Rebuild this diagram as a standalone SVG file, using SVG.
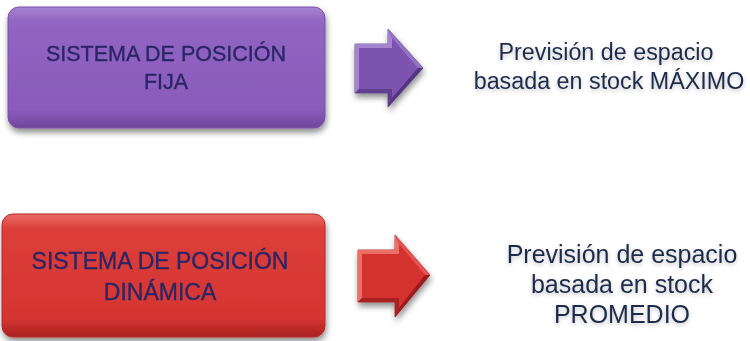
<svg xmlns="http://www.w3.org/2000/svg" width="750" height="341" viewBox="0 0 750 341">
<defs>
<linearGradient id="gPurple" x1="0" y1="0" x2="0" y2="1">
<stop offset="0" stop-color="#a684d2"/>
<stop offset="0.12" stop-color="#9165c2"/>
<stop offset="0.85" stop-color="#895bbb"/>
<stop offset="1" stop-color="#6f469c"/>
</linearGradient>
<linearGradient id="gRed" x1="0" y1="0" x2="0" y2="1">
<stop offset="0" stop-color="#ea6c66"/>
<stop offset="0.12" stop-color="#dc3e3a"/>
<stop offset="0.85" stop-color="#d53532"/>
<stop offset="1" stop-color="#a92220"/>
</linearGradient>
<filter id="shadow" x="-10%" y="-10%" width="120%" height="130%">
<feGaussianBlur in="SourceAlpha" stdDeviation="3"/>
<feOffset dx="1" dy="4" result="b"/>
<feComponentTransfer><feFuncA type="linear" slope="0.45"/></feComponentTransfer>
<feMerge><feMergeNode/><feMergeNode in="SourceGraphic"/></feMerge>
</filter>
<filter id="glow" x="-5%" y="-20%" width="110%" height="150%">
<feGaussianBlur in="SourceAlpha" stdDeviation="2"/>
<feOffset dx="0" dy="2"/>
<feComponentTransfer><feFuncA type="linear" slope="0.25"/></feComponentTransfer>
<feMerge><feMergeNode/><feMergeNode in="SourceGraphic"/></feMerge>
</filter>
</defs>
<style>
.box-text { font-family: "Liberation Sans", Arial, sans-serif; fill: #2a2666; stroke: #2a2666; stroke-width: 0.35; text-anchor: middle; }
.desc { font-family: "Liberation Sans", Arial, sans-serif; fill: #1d2c4b; text-anchor: middle; }
</style>

<g id="node-fija" filter="url(#shadow)">
<rect x="8" y="7" width="317" height="121" rx="11" fill="url(#gPurple)" stroke="#7a50a8" stroke-width="1"/>
<text class="box-text" x="166" y="61" font-size="21.5">SISTEMA DE POSICIÓN</text>
<text class="box-text" x="166" y="89" font-size="21.5">FIJA</text>
</g>

<g id="node-dinamica" filter="url(#shadow)">
<rect x="2" y="214" width="323" height="123" rx="11" fill="url(#gRed)" stroke="#b82a28" stroke-width="1"/>
<text class="box-text" x="160" y="269" font-size="23">SISTEMA DE POSICIÓN</text>
<text class="box-text" x="160" y="300" font-size="23">DINÁMICA</text>
</g>

<g id="connectors">
<g id="arrow-1" filter="url(#shadow)">
<polygon points="355,44 388,44 388,29 423,68 388,107 388,93 355,93" fill="#7b52ae" stroke="#5e3d8c" stroke-width="0.8"/>
<polygon points="355,44 388,44 388,29 392,38 392,48 359,48 359,89 355,93" fill="#a385cf"/>
<polygon points="392,38 418,68 423,68 388,29" fill="#9272c2"/>
<polygon points="355,93 359,89 392,89 392,98 388,107 388,93" fill="#5f3f8e"/>
<polygon points="392,98 418,68 423,68 388,107" fill="#533580"/>
</g>
<g id="arrow-2" filter="url(#shadow)">
<polygon points="358,250 395,250 395,235 430,275 395,317 395,302 358,302" fill="#d3302e" stroke="#a41f1e" stroke-width="0.8"/>
<polygon points="358,250 395,250 395,235 399,244 399,254 362,254 362,298 358,302" fill="#ec6e66"/>
<polygon points="399,244 425,275 430,275 395,235" fill="#e25450"/>
<polygon points="358,302 362,298 399,298 399,308 395,317 395,302" fill="#a82220"/>
<polygon points="399,308 425,275 430,275 395,317" fill="#9a1d1c"/>
</g>
</g>

<g id="node-maximo" filter="url(#glow)">
<text class="desc" x="606" y="60" font-size="23.3">Previsión de espacio</text>
<text class="desc" x="609" y="89" font-size="23.3">basada en stock MÁXIMO</text>
</g>

<g id="node-promedio" filter="url(#glow)">
<text class="desc" x="622" y="263" font-size="25">Previsión de espacio</text>
<text class="desc" x="622" y="293" font-size="25">basada en stock</text>
<text class="desc" x="622" y="323" font-size="25">PROMEDIO</text>
</g>
</svg>
